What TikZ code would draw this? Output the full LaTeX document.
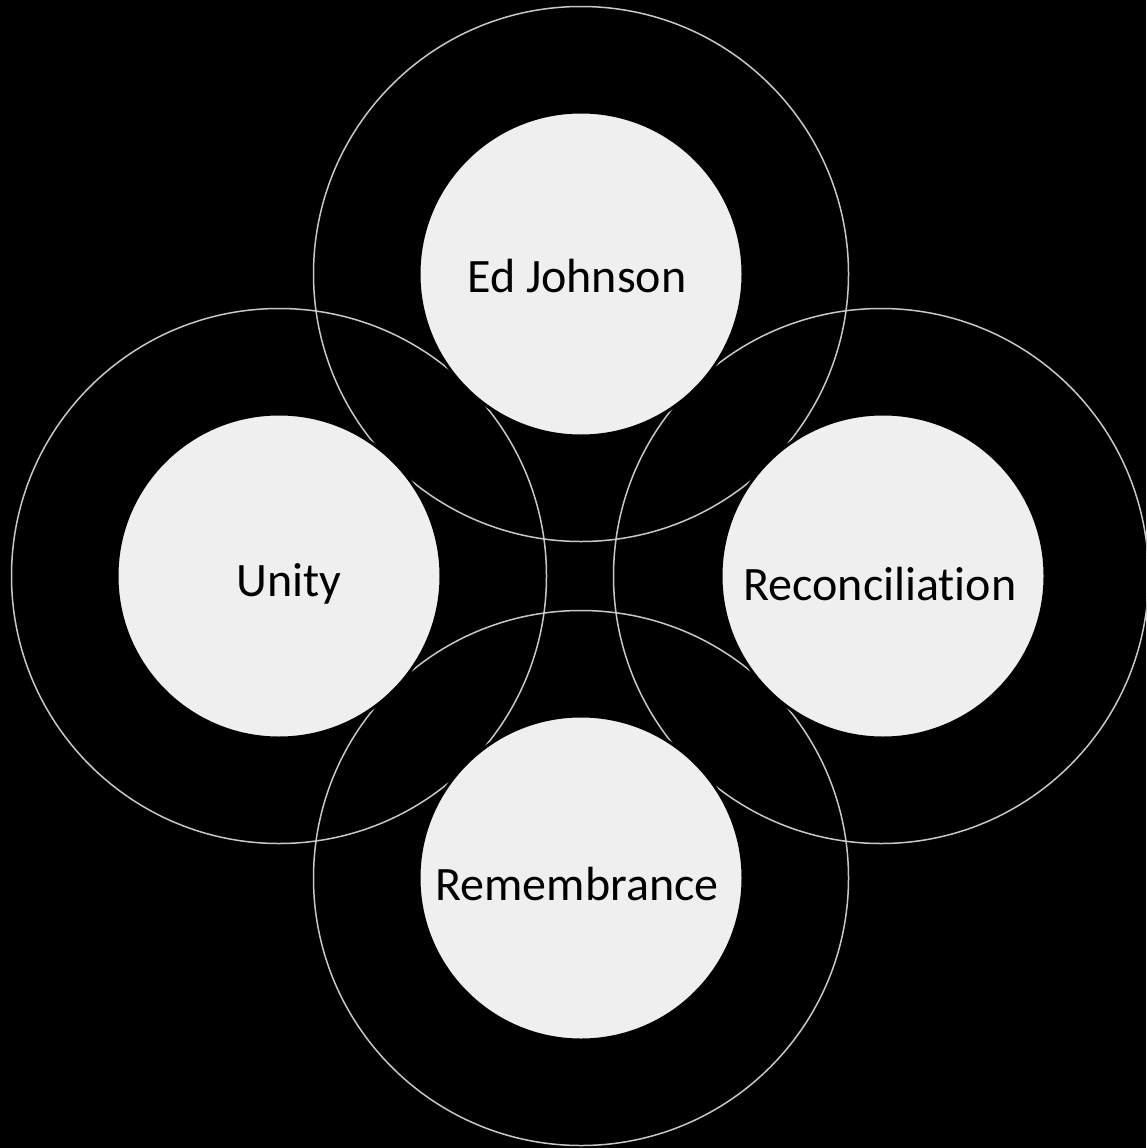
\documentclass[tikz,border=0pt]{standalone}
\usepackage{fontspec}
\setmainfont[Ligatures=NoCommon]{Carlito}
\definecolor{ringgray}{RGB}{200,200,200}
\definecolor{discgray}{RGB}{239,239,239}
\tikzset{
  ring/.style={circle, draw=ringgray, line width=1.5pt, minimum size=535pt, inner sep=0pt},
  disc/.style={circle, draw=black, line width=3pt, fill=discgray, minimum size=324pt, inner sep=0pt},
  caption/.style={text=black, inner sep=0pt, font=\fontsize{48}{56}\selectfont}
}
\begin{document}
\begin{tikzpicture}[x=1pt,y=-1pt]
  \fill[black] (0,0) rectangle (1146,1148);
  \useasboundingbox (0,0) rectangle (1146,1148);
  % outer rings
  \node[ring] (topring) at (581,274){};
  \node[ring] (leftring) at (279,576){};
  \node[ring] (rightring) at (881,576){};
  \node[ring] (bottomring) at (581,878){};
  % inner discs
  \node[disc] (johnson) at (581,274){};
  \node[disc] (unity) at (279,576){};
  \node[disc] (reconc) at (883,576){};
  \node[disc] (remember) at (581,878){};
  % texts
  \node[caption] (johnsontext) at (577,276){Ed Johnson};
  \node[caption] (unitytext) at (289,584){Unity};
  \node[caption] (reconctext) at (880,584){Reconciliation};
  \node[caption] (remembertext) at (577,884){Remembrance};
\end{tikzpicture}
\end{document}
